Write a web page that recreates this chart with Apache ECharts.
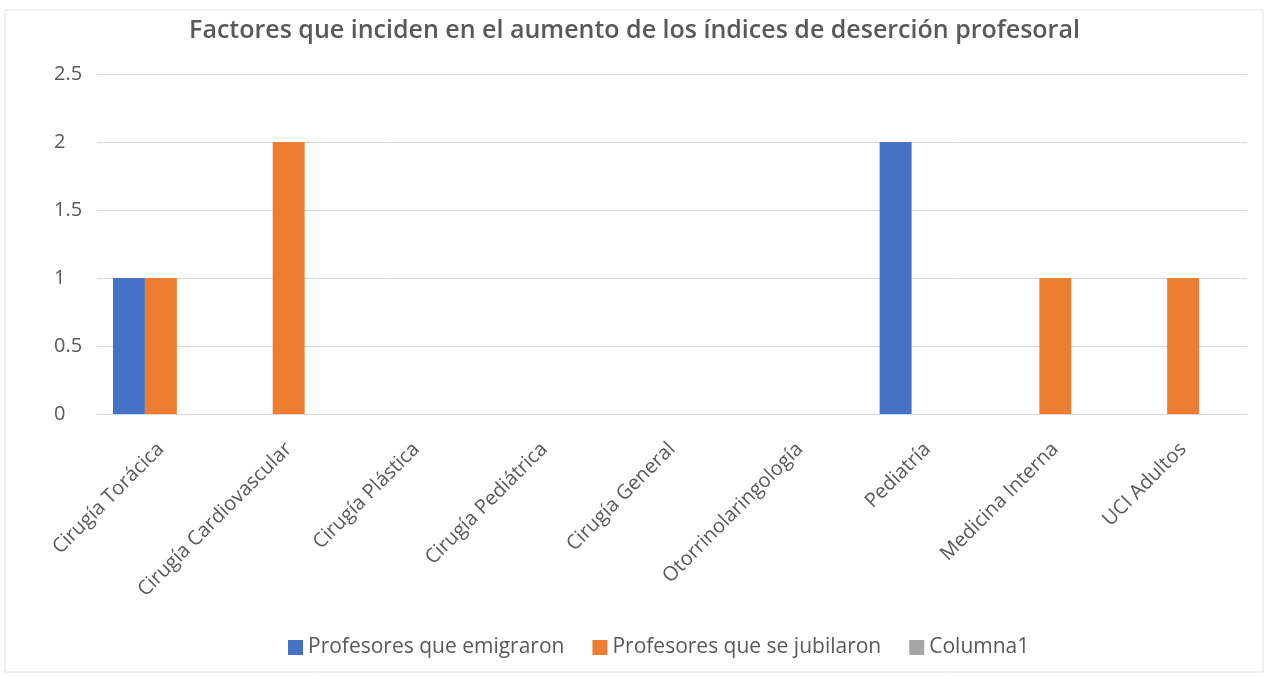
<!DOCTYPE html>
<html>
<head>
<meta charset="utf-8">
<script src="https://cdn.jsdelivr.net/npm/echarts@6/dist/echarts.min.js"></script>
<style>
  html, body { margin: 0; padding: 0; background: #fff; }
  #chart { width: 1269px; height: 677px; }
</style>
</head>
<body>
<div id="chart"></div>
<script>
// categorias del eje x
var especialidades = ['Cirugía Torácica', 'Cirugía Cardiovascular', 'Cirugía Plástica', 'Cirugía Pediátrica',
  'Cirugía General', 'Otorrinolaringología', 'Pediatría', 'Medicina Interna', 'UCI Adultos'];
var emigraron = [1, 0, 0, 0, 0, 0, 2, 0, 0];
var jubilaron = [1, 2, 0, 0, 0, 0, 0, 1, 1];
var columna1 = [0, 0, 0, 0, 0, 0, 0, 0, 0];
var nombresSeries = ['Profesores que emigraron', 'Profesores que se jubilaron', 'Columna1'];

var myChart = echarts.init(document.getElementById('chart'));

var textoGris = '#595959';
var lineaGris = '#d9d9d9';

var option = {
  backgroundColor: '#fff',
  animation: false,
  title: {
    text: 'Factores que inciden en el aumento de los índices de deserción profesoral',
    left: 'center',
    top: 13,
    textStyle: {
      fontFamily: 'Open Sans',
      fontSize: 25,
      fontWeight: 600,
      color: textoGris
    }
  },
  graphic: [{
    type: 'rect',
    shape: { x: 5, y: 10, width: 1258, height: 662 },
    style: { fill: 'none', stroke: '#e3e3e3', lineWidth: 1 },
    silent: true
  }],
  legend: {
    bottom: 14,
    left: 283,
    itemWidth: 15,
    itemHeight: 15,
    itemGap: 28,
    icon: 'rect',
    data: nombresSeries,
    textStyle: { fontFamily: 'Open Sans', fontSize: 21, color: textoGris }
  },
  grid: {
    left: 97,
    right: 22,
    top: 74,
    bottom: 263
  },
  xAxis: {
    type: 'category',
    data: especialidades,
    axisLine: { lineStyle: { color: lineaGris, width: 1 } },
    axisTick: { show: false },
    axisLabel: {
      rotate: 45,
      interval: 0,
      margin: 32,
      fontFamily: 'Open Sans',
      fontSize: 20,
      color: textoGris
    }
  },
  yAxis: {
    type: 'value',
    min: 0,
    max: 2.5,
    interval: 0.5,
    axisLine: { show: false },
    axisTick: { show: false },
    splitLine: { lineStyle: { color: lineaGris, width: 1 } },
    axisLabel: {
      align: 'left',
      margin: 43,
      fontFamily: 'Open Sans',
      fontSize: 20,
      color: textoGris
    }
  },
  series: [{
    name: nombresSeries[0],
    type: 'bar',
    barGap: '0%',
    barCategoryGap: '25%',
    itemStyle: { color: '#4472c4' },
    data: emigraron
  }, {
    name: nombresSeries[1],
    type: 'bar',
    barGap: '0%',
    barCategoryGap: '25%',
    itemStyle: { color: '#ed7d31' },
    data: jubilaron
  }, {
    name: nombresSeries[2],
    type: 'bar',
    barGap: '0%',
    barCategoryGap: '25%',
    itemStyle: { color: '#a5a5a5' },
    data: columna1
  }]
};

myChart.setOption(option);
</script>
</body>
</html>
